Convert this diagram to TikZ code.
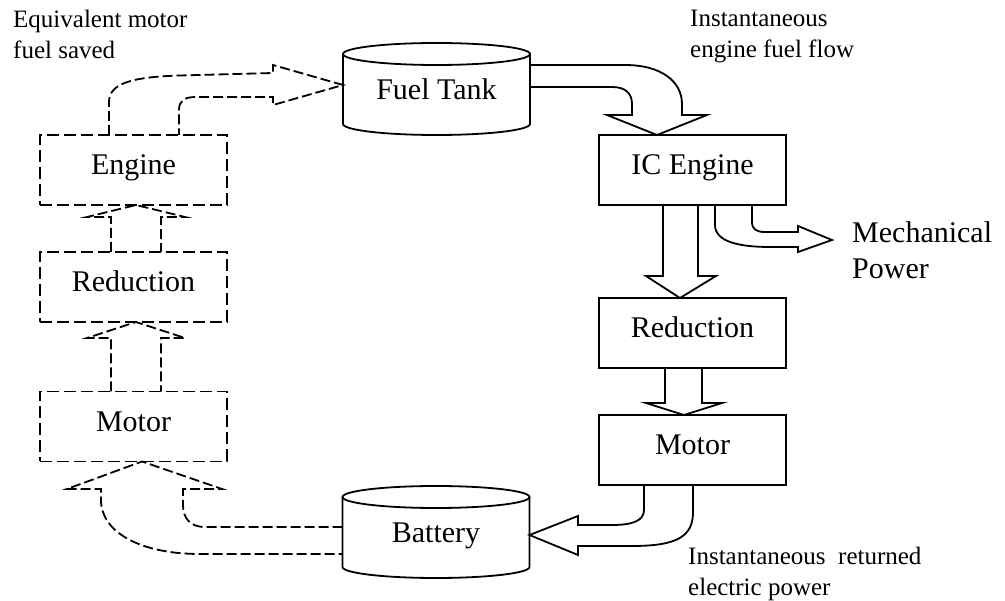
\documentclass[tikz,border=0pt]{standalone}
\usepackage{fontspec}
\setmainfont{Liberation Serif}
\usetikzlibrary{calc}
\tikzset{
  box/.style={draw, line width=1.8pt, minimum width=187pt, minimum height=70pt,
    inner sep=0pt, outer sep=0pt, font=\fontsize{30}{36}\selectfont,
    text height=20pt, text depth=10pt},
  dbox/.style={box, dash pattern=on 12pt off 5pt},
  tankshape/.style={minimum width=187pt, minimum height=70pt, inner sep=0pt,
    outer sep=0pt, font=\fontsize{30}{36}\selectfont, text height=21pt, text depth=0pt},
  cyl/.style={line width=1.8pt},
  flow/.style={draw, line width=1.8pt, line join=miter},
  dflow/.style={flow, dash pattern=on 10pt off 4pt},
  % multi-line notes: the base anchor sits on the last line's baseline
  note/.style={font=\fontsize{25}{31}\selectfont, align=left, inner sep=0pt, anchor=base west},
}
\begin{document}
\begin{tikzpicture}[x=1pt,y=-1pt]
\useasboundingbox (0,0) rectangle (1005,601);

% dashed (equivalent) chain on the left
\node[dbox] (engd) at (133.5,170) {Engine};
\node[dbox] (redd) at (133.5,287) {Reduction};
\node[dbox] (motd) at (133.5,426.5) {Motor};

% real drive chain on the right
\node[box] (ice) at (692.5,170) {IC Engine};
\node[box] (red) at (692.5,333) {Reduction};
\node[box] (mot) at (692.5,450) {Motor};

% storage cylinders
\node[tankshape] (tank) at (436.5,89) {Fuel Tank};
\node[tankshape] (batt) at (436,532) {Battery};
\foreach \c in {tank,batt}{
  \draw[cyl] (\c.north west) -- (\c.south west)
    arc[start angle=180, end angle=360, x radius=93.5pt, y radius=11pt]
    -- (\c.north east);
  \draw[cyl] (\c.north) ellipse[x radius=93.5pt, y radius=11pt];
}

% fuel tank -> IC engine
\draw[flow] ($(tank.east)+(0,-24)$) -- (625,65)
  .. controls (662,65) and (682,82) .. (682,104) -- (682,115) -- (707,115)
  -- ($(ice.north west)+(58,0)$) -- (607,115) -- (632,115) -- (632,104)
  .. controls (632,93) and (625,87) .. (612,87) -- ($(tank.east)+(0,-2)$);

% IC engine -> mechanical power
\coordinate (mechtip) at (832,240);
\draw[flow] ($(ice.south)+(22.5,0)$) -- (715,225)
  .. controls (715,242) and (740,247) .. (770,247) -- (798,247) -- (798,252)
  -- (mechtip) -- (798,226) -- (798,232) -- (765,232)
  .. controls (756,232) and (752,229) .. (752,222) -- ($(ice.south)+(59.5,0)$);

% IC engine -> reduction
\draw[flow] ($(ice.south)+(-29.5,0)$) -- (663,276) -- (646,276)
  -- ($(red.north)+(-12.5,0)$) -- (716,276) -- (698,276) -- ($(ice.south)+(5.5,0)$);

% reduction -> motor
\draw[flow] ($(red.south)+(-27.5,0)$) -- (665,403) -- (646,403)
  -- ($(mot.north)+(-8.5,0)$) -- (722,403) -- (702,403) -- ($(red.south)+(9.5,0)$);

% motor -> battery
\draw[flow] ($(mot.south)+(-48.5,0)$) -- (644,510)
  .. controls (644,521) and (632,525) .. (612,525) -- (578,525) -- (578,516)
  -- ($(batt.east)+(0,3)$) -- (578,555) -- (578,546) -- (632,546)
  .. controls (678,546) and (693,536) .. (693,512) -- ($(mot.south)+(0.5,0)$);

% battery -> equivalent motor
\draw[dflow] ($(batt.west)+(0,-5)$) -- (205,527)
  .. controls (190,527) and (183,518) .. (183,505) -- (183,489) -- (222,489)
  -- ($(motd.south)+(8.5,0)$) -- (67,489) -- (101,489) -- (101,500)
  .. controls (101,532) and (140,554) .. (200,554) -- ($(batt.west)+(0,22)$);

% equivalent motor -> reduction -> engine
\draw[dflow] ($(motd.north)+(-22.5,0)$) -- (111,338) -- (87,338)
  -- ($(redd.south)+(2.5,0)$) -- (185,338) -- (161,338) -- ($(motd.north)+(27.5,0)$);
\draw[dflow] ($(redd.north)+(-22.5,0)$) -- (111,217) -- (87,217)
  -- ($(engd.south)+(2.5,0)$) -- (185,217) -- (161,217) -- ($(redd.north)+(27.5,0)$);

% equivalent engine -> fuel tank
\draw[dflow] ($(engd.north)+(-24.5,0)$) -- (109,102)
  .. controls (109,84) and (130,77) .. (180,75.5) -- (273,73) -- (273,65)
  -- ($(tank.west)+(0,-4)$) -- (273,105) -- (273,97) -- (196,97)
  .. controls (184,97) and (179,101) .. (179,110) -- ($(engd.north)+(45.5,0)$);

% annotations
\node[note] (lblsaved) at (13,59) {Equivalent motor\\fuel saved};
\node[note] (lblflow) at (690,58) {Instantaneous\\engine fuel flow};
\node[note] (lblret) at (688,595) {Instantaneous\ \ returned\\electric power};
\node[note, font=\fontsize{30}{36}\selectfont] (lblmech) at (852,279) {Mechanical\\Power};
\end{tikzpicture}
\end{document}
